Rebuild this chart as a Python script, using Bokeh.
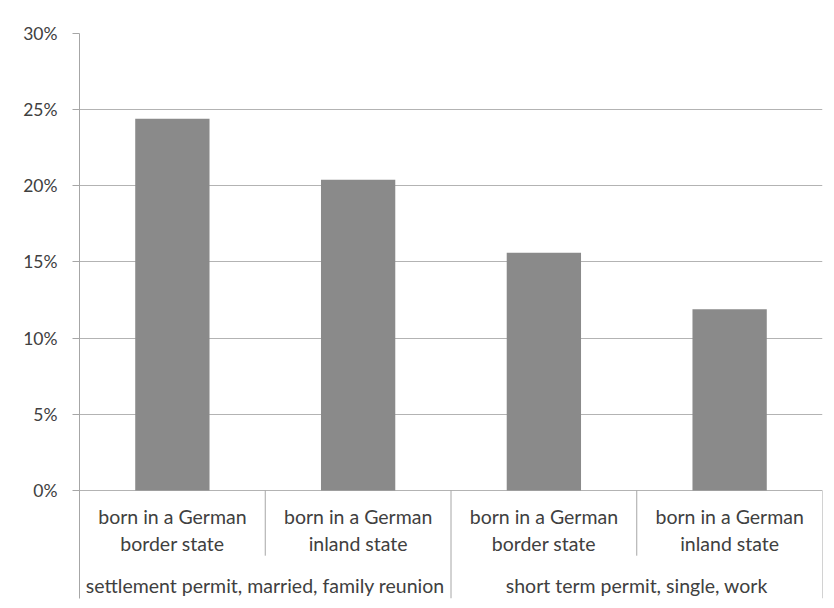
from bokeh.plotting import figure
from bokeh.models import Range1d, FixedTicker, NumeralTickFormatter
from bokeh.core.properties import value
from bokeh.embed import file_html
from bokeh.resources import INLINE

# ---- data ----
groups = ["settlement permit, married, family reunion", "short term permit, single, work"]
subcats = ["born in a German\nborder state", "born in a German\ninland state",
           "born in a German\nborder state", "born in a German\ninland state"]
values = [0.244, 0.204, 0.156, 0.119]
y_ticks = [0.0, 0.05, 0.10, 0.15, 0.20, 0.25, 0.30]

FONT = "Lato"
TXT = "#404040"
LINE = "#a6a6a6"

n = len(values)
per_group = n // len(groups)
y_top = 0.30
y_bottom = -0.0709

p = figure(width=826, height=600, output_backend="svg", toolbar_location=None,
           x_range=Range1d(0, n), y_range=Range1d(y_bottom, y_top),
           min_border_left=79, min_border_right=4, min_border_top=33, min_border_bottom=2)
p.xaxis.visible = False
p.xgrid.visible = False
p.outline_line_color = None
p.background_fill_color = "white"
p.border_fill_color = "white"

ax = p.yaxis[0]
ax.ticker = FixedTicker(ticks=y_ticks)
ax.formatter = NumeralTickFormatter(format="0%")
ax.axis_line_color = LINE
ax.major_tick_line_color = LINE
ax.major_tick_out = 7
ax.major_tick_in = 0
ax.minor_tick_line_color = None
ax.major_label_text_font = FONT
ax.major_label_text_font_size = "17.5px"
ax.major_label_text_color = TXT
ax.major_label_standoff = 15

p.ygrid.ticker = FixedTicker(ticks=y_ticks)
p.ygrid.grid_line_color = "#b3b3b3"
p.ygrid.grid_line_width = 1

xs = [i + 0.5 for i in range(n)]
p.vbar(x=xs, top=values, width=0.4, fill_color="#8a8a8a", line_color=None)

# separators in category axis
sub_sep = [g * per_group + k for g in range(len(groups)) for k in range(1, per_group)]
grp_sep = [(g + 1) * per_group for g in range(len(groups))]
p.segment(x0=sub_sep, y0=[0] * len(sub_sep), x1=sub_sep, y1=[-0.0428] * len(sub_sep),
          line_color=LINE, line_width=1)
p.segment(x0=grp_sep, y0=[0] * len(grp_sep), x1=grp_sep, y1=[y_bottom] * len(grp_sep),
          line_color=LINE, line_width=1)

p.text(x=xs, y=[-0.0258] * n, text=subcats, text_align="center", text_baseline="middle",
       text_font=value(FONT), text_font_size="19.5px", text_color=TXT, text_line_height=1.19)
gx = [g * per_group + per_group / 2 for g in range(len(groups))]
p.text(x=gx, y=[-0.0623] * len(groups), text=groups, text_align="center", text_baseline="middle",
       text_font=value(FONT), text_font_size="19.5px", text_color=TXT)

open("out.html", "w").write(file_html(p, INLINE))
